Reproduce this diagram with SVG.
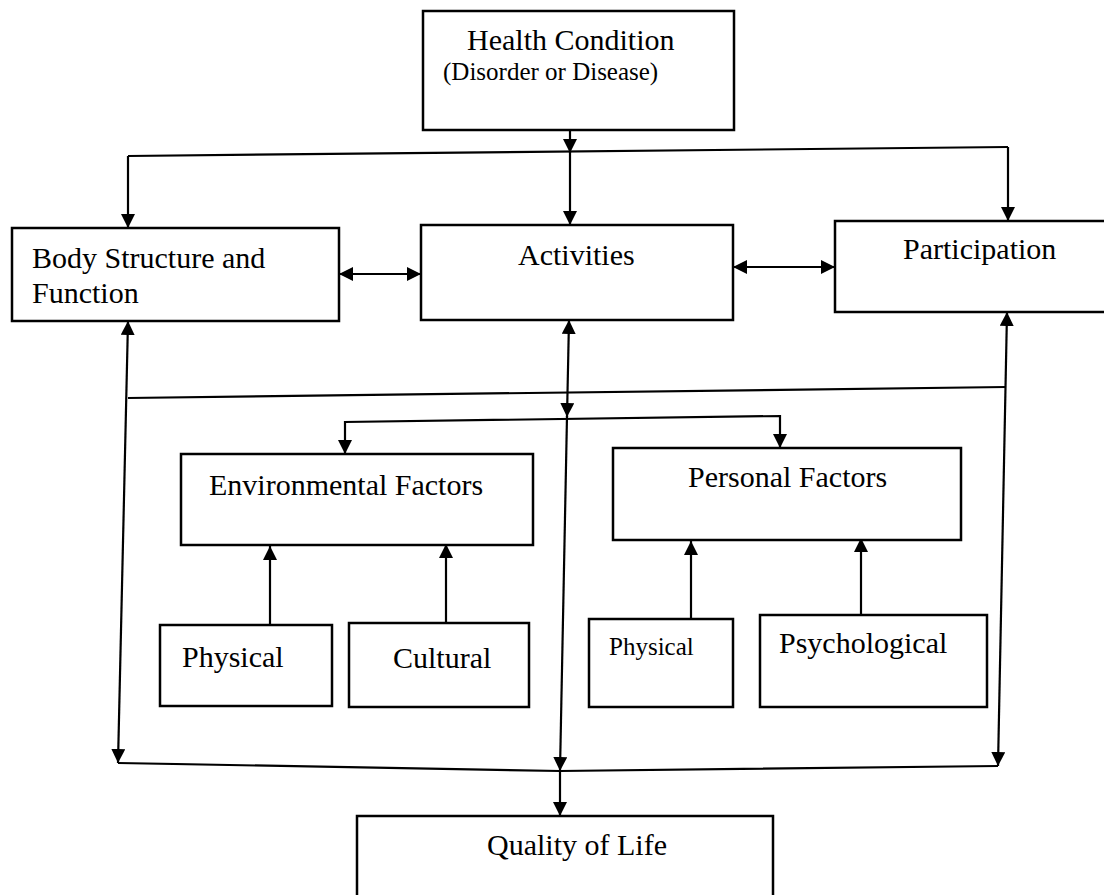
<svg xmlns="http://www.w3.org/2000/svg" width="1104" height="895" viewBox="0 0 1104 895">
  <style>
    .box { fill: #ffffff; stroke: #000000; stroke-width: 2.5; }
    .wire { fill: none; stroke: #000000; stroke-width: 2.2; }
    .lbl { font-family: "Liberation Serif", "Times New Roman", serif; fill: #000000; font-size: 30px; }
    .sm { font-size: 25px; }
  </style>
  <defs>
    <marker id="tip" viewBox="0 0 14 14" refX="14" refY="7" markerWidth="14" markerHeight="14" markerUnits="userSpaceOnUse" orient="auto-start-reverse">
      <path d="M0,0 L14,7 L0,14 z" fill="#000000"/>
    </marker>
  </defs>
  <rect width="1104" height="895" fill="#ffffff"/>

  <!-- connectors -->
  <g id="connectors">
    <!-- health condition feeding the top bus -->
    <line class="wire" x1="570" y1="130" x2="570" y2="153" marker-end="url(#tip)"/>
    <line class="wire" x1="128" y1="156" x2="1008" y2="147"/>
    <line class="wire" x1="128" y1="156" x2="128" y2="228" marker-end="url(#tip)"/>
    <line class="wire" x1="570" y1="152" x2="570" y2="225" marker-end="url(#tip)"/>
    <line class="wire" x1="1008" y1="147" x2="1008" y2="221" marker-end="url(#tip)"/>
    <!-- links between the three component boxes -->
    <line class="wire" x1="339" y1="274" x2="421" y2="274" marker-start="url(#tip)" marker-end="url(#tip)"/>
    <line class="wire" x1="733" y1="267" x2="835" y2="267" marker-start="url(#tip)" marker-end="url(#tip)"/>
    <!-- long verticals down to the bottom bus -->
    <line class="wire" x1="128" y1="321" x2="118" y2="763" marker-start="url(#tip)" marker-end="url(#tip)"/>
    <line class="wire" x1="569" y1="320" x2="567" y2="417" marker-start="url(#tip)" marker-end="url(#tip)"/>
    <line class="wire" x1="567" y1="416" x2="560" y2="771" marker-end="url(#tip)"/>
    <line class="wire" x1="1007" y1="312" x2="998" y2="766" marker-start="url(#tip)" marker-end="url(#tip)"/>
    <!-- contextual factors cross bar -->
    <line class="wire" x1="128" y1="398" x2="1006" y2="387"/>
    <path class="wire" d="M345,454 L345,422 L780,416 L780,448" marker-start="url(#tip)" marker-end="url(#tip)"/>
    <!-- sub-factor arrows -->
    <line class="wire" x1="270" y1="625" x2="270" y2="546" marker-end="url(#tip)"/>
    <line class="wire" x1="446" y1="623" x2="446" y2="544" marker-end="url(#tip)"/>
    <line class="wire" x1="691" y1="619" x2="691" y2="541" marker-end="url(#tip)"/>
    <line class="wire" x1="861" y1="615" x2="861" y2="538" marker-end="url(#tip)"/>
    <!-- bottom bus to quality of life -->
    <polyline class="wire" points="118,763 560,771 998,766"/>
    <line class="wire" x1="560" y1="771" x2="560" y2="816" marker-end="url(#tip)"/>
  </g>

  <g id="health">
    <rect class="box" x="423" y="11" width="311" height="119"/>
    <text class="lbl" x="467" y="50">Health Condition</text>
    <text class="lbl sm" x="443" y="80">(Disorder or Disease)</text>
  </g>
  <g id="body">
    <rect class="box" x="12" y="228" width="327" height="93"/>
    <text class="lbl" x="32" y="268">Body Structure and</text>
    <text class="lbl" x="32" y="303">Function</text>
  </g>
  <g id="activities">
    <rect class="box" x="421" y="225" width="312" height="95"/>
    <text class="lbl" x="518" y="265">Activities</text>
  </g>
  <g id="participation">
    <rect class="box" x="835" y="221" width="290" height="91"/>
    <text class="lbl" x="903" y="259">Participation</text>
  </g>
  <g id="environmental">
    <rect class="box" x="181" y="454" width="352" height="91"/>
    <text class="lbl" x="209" y="495">Environmental Factors</text>
  </g>
  <g id="personal">
    <rect class="box" x="613" y="448" width="348" height="92"/>
    <text class="lbl" x="688" y="487">Personal Factors</text>
  </g>
  <g id="env-physical">
    <rect class="box" x="160" y="625" width="172" height="81"/>
    <text class="lbl" x="182" y="667">Physical</text>
  </g>
  <g id="cultural">
    <rect class="box" x="349" y="623" width="180" height="84"/>
    <text class="lbl" x="393" y="668">Cultural</text>
  </g>
  <g id="pers-physical">
    <rect class="box" x="589" y="619" width="144" height="88"/>
    <text class="lbl sm" x="609" y="655">Physical</text>
  </g>
  <g id="psychological">
    <rect class="box" x="760" y="615" width="227" height="92"/>
    <text class="lbl" x="779" y="653" font-size="26px">Psychological</text>
  </g>
  <g id="quality">
    <rect class="box" x="357" y="816" width="416" height="100"/>
    <text class="lbl" x="487" y="855">Quality of Life</text>
  </g>
</svg>
